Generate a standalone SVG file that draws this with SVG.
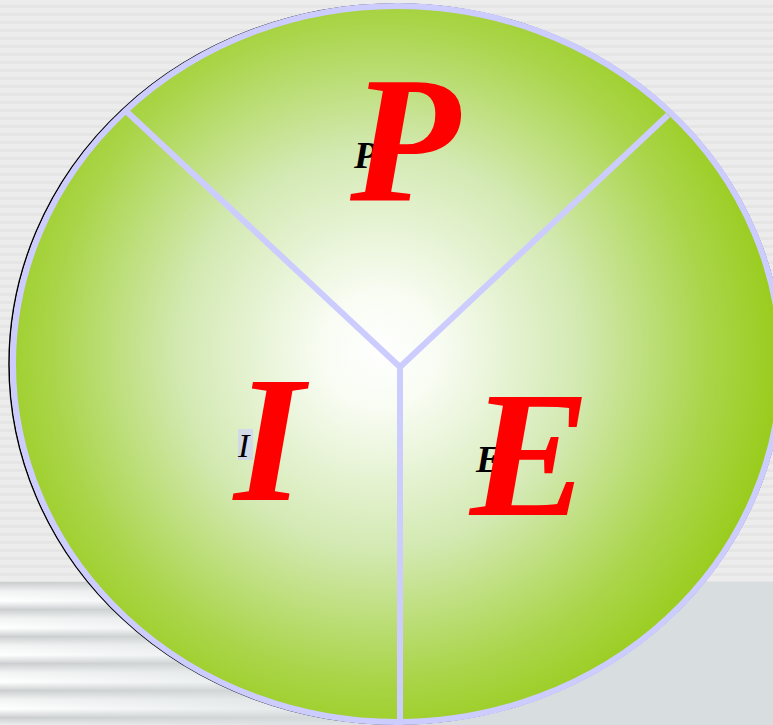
<svg xmlns="http://www.w3.org/2000/svg" width="773" height="725" viewBox="0 0 773 725">
<defs>
<style>
.big{font-family:"Liberation Serif",serif;font-weight:bold;font-style:italic;fill:#ff0000;}
.small{font-family:"Liberation Serif",serif;font-weight:bold;font-style:italic;fill:#000;font-size:38px;}
.div{stroke:#ccccff;stroke-width:6;fill:none;}
</style>
<radialGradient id="g" gradientUnits="userSpaceOnUse" cx="380" cy="350" r="400">
<stop offset="0" stop-color="#ffffff"/>
<stop offset="0.15" stop-color="#f8fcf2"/>
<stop offset="0.5" stop-color="#d3e9b2"/>
<stop offset="0.82" stop-color="#aad54a"/>
<stop offset="1" stop-color="#99cc1c"/>
</radialGradient>
<pattern id="stripes" width="10" height="8" patternUnits="userSpaceOnUse">
<rect width="10" height="8" fill="#ececec"/>
<rect y="5" width="10" height="3" fill="#e5e5e5"/>
</pattern>
<linearGradient id="band" x1="0" y1="0" x2="0" y2="1">
<stop offset="0" stop-color="#c9cccd"/>
<stop offset="0.35" stop-color="#f2f3f3"/>
<stop offset="0.7" stop-color="#ffffff"/>
<stop offset="1" stop-color="#d0d3d4"/>
</linearGradient>
<linearGradient id="fade" x1="0" y1="0" x2="1" y2="0">
<stop offset="0" stop-color="#d8dee0" stop-opacity="0"/>
<stop offset="0.6" stop-color="#d8dee0" stop-opacity="1"/>
</linearGradient>
<pattern id="bands" width="40" height="27" patternUnits="userSpaceOnUse" y="582">
<rect width="40" height="27" fill="url(#band)"/>
</pattern>
</defs>
<g id="background">
<rect width="773" height="725" fill="url(#stripes)"/>
<rect y="582" width="773" height="143" fill="url(#bands)"/>
<rect y="582" width="773" height="143" fill="url(#fade)"/>
</g>
<g id="circle">
<ellipse cx="396" cy="364" rx="387" ry="360" fill="none" stroke="#000" stroke-width="1.5"/>
<ellipse cx="397" cy="364" rx="384" ry="358" fill="url(#g)" stroke="#ccccff" stroke-width="6"/>
</g>
<g id="connectors">
<line class="div" x1="400" y1="367" x2="126" y2="111"/>
<line class="div" x1="400" y1="367" x2="668" y2="115"/>
<line class="div" x1="400" y1="367" x2="400" y2="725"/>
</g>
<g id="node-P">
<text class="small" x="354" y="168">P</text>
<text class="big" x="350" y="200" font-size="180">P</text>
</g>
<g id="node-I">
<rect x="238" y="429" width="15" height="31" fill="#ccccff" opacity="0.6"/>
<text x="238" y="457" font-family="Liberation Serif,serif" font-style="italic" font-size="34" fill="#000">I</text>
<text class="big" x="234" y="500" font-size="180">I</text>
</g>
<g id="node-E">
<text class="small" x="476" y="472">E</text>
<text class="big" x="470" y="515" font-size="180">E</text>
</g>
</svg>
